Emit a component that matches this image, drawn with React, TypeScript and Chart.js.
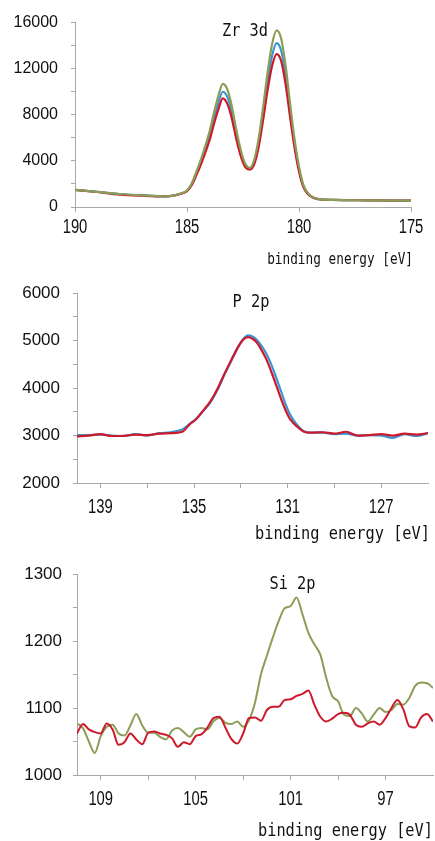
import React, { useEffect, useRef } from 'react';
import { Chart, registerables } from 'chart.js';

Chart.register(...registerables);

const GREEN = '#8c9d57';
const BLUE = '#3b95d3';
const RED = '#cc1a2c';
const AXIS = '#a8a8a8';
const TEXT = '#111111';

// ---------- Zr 3d ----------
const zrEnergy = [190, 189, 188, 187, 186, 185.6, 185.2, 185, 184.8, 184.6, 184.4, 184.2, 184, 183.8, 183.6, 183.4, 183.2, 183, 182.8, 182.6, 182.4, 182.2, 182, 181.8, 181.6, 181.4, 181.2, 181, 180.8, 180.6, 180.4, 180.2, 180, 179.8, 179.6, 179.4, 179.2, 179, 178.5, 178, 177, 176, 175];
const zrGreen = [1490, 1310, 1130, 1010, 930, 990, 1230, 1430, 2000, 2950, 4000, 5200, 6500, 8150, 9650, 10680, 10200, 8750, 6700, 4950, 3750, 3400, 4100, 5950, 8700, 11700, 14150, 15320, 14650, 12300, 9000, 5900, 3500, 1900, 1200, 880, 720, 660, 620, 600, 580, 560, 545];
const zrBlue = [1490, 1310, 1130, 1010, 930, 985, 1210, 1400, 1930, 2810, 3790, 4900, 6110, 7650, 9040, 10000, 9550, 8200, 6290, 4660, 3620, 3320, 3900, 5560, 8100, 10875, 13140, 14220, 13600, 11425, 8370, 5500, 3280, 1800, 1155, 860, 710, 655, 620, 600, 580, 560, 545];
const zrRed = [1490, 1300, 1080, 980, 925, 985, 1190, 1365, 1860, 2680, 3590, 4630, 5750, 7180, 8480, 9420, 8950, 7690, 5910, 4400, 3450, 3250, 3700, 5220, 7580, 10160, 12260, 13270, 12690, 10670, 7830, 5160, 3090, 1720, 1116, 840, 700, 650, 620, 600, 580, 560, 545];
const zrXTicks = [190, 185, 180, 175];
const zrXLabels = [190, 185, 180, 175];

// ---------- P 2p ----------
const pEnergy = [140, 139.5, 139, 138.5, 138, 137.5, 137, 136.5, 136, 135.5, 135.2, 134.9, 134.6, 134.3, 134.0, 133.7, 133.4, 133.1, 132.9, 132.7, 132.5, 132.3, 132.1, 131.9, 131.7, 131.5, 131.3, 131.1, 130.9, 130.6, 130.3, 130, 129.5, 129, 128.5, 128, 127.5, 127, 126.5, 126, 125.5, 125];
const pRed = [2980, 3000, 3030, 2990, 2995, 3020, 3010, 3040, 3050, 3080, 3230, 3350, 3530, 3720, 3980, 4300, 4600, 4880, 5020, 5075, 5040, 4950, 4790, 4600, 4350, 4080, 3800, 3550, 3350, 3190, 3080, 3060, 3070, 3040, 3080, 3000, 3010, 3030, 3000, 3040, 3020, 3050];
const pBlue = [3010, 3010, 3020, 3000, 2990, 3030, 3000, 3050, 3070, 3130, 3240, 3360, 3520, 3700, 3960, 4280, 4580, 4880, 5030, 5110, 5090, 5010, 4880, 4720, 4500, 4240, 3960, 3680, 3450, 3230, 3090, 3060, 3060, 3030, 3040, 3000, 3010, 3000, 2950, 3030, 2990, 3050];
const pXTicks = [139, 137, 135, 133, 131, 129, 127];
const pXLabels = [139, 135, 131, 127];

// ---------- Si 2p ----------
const siEnergy = [110, 109.75, 109.5, 109.25, 109, 108.75, 108.5, 108.25, 108, 107.75, 107.5, 107.25, 107, 106.75, 106.5, 106.25, 106, 105.75, 105.5, 105.25, 105, 104.75, 104.5, 104.25, 104, 103.75, 103.5, 103.25, 103, 102.75, 102.5, 102.25, 102, 101.75, 101.5, 101.25, 101, 100.75, 100.5, 100.25, 100, 99.75, 99.5, 99.25, 99, 98.75, 98.5, 98.25, 98, 97.75, 97.5, 97.25, 97, 96.75, 96.5, 96.25, 96, 95.75, 95.5, 95.25, 95];
const siGreen = [1077, 1070, 1050, 1033, 1058, 1072, 1075, 1062, 1059, 1074, 1091, 1074, 1063, 1063, 1057, 1053, 1066, 1070, 1064, 1057, 1068, 1070, 1068, 1080, 1085, 1078, 1076, 1080, 1072, 1082, 1108, 1150, 1178, 1205, 1230, 1249, 1252, 1265, 1240, 1212, 1195, 1180, 1145, 1118, 1110, 1090, 1088, 1100, 1092, 1080, 1090, 1100, 1094, 1097, 1106, 1105, 1115, 1133, 1138, 1137, 1130];
const siRed = [1062, 1076, 1068, 1064, 1062, 1077, 1068, 1045, 1049, 1062, 1053, 1046, 1063, 1065, 1062, 1060, 1055, 1042, 1049, 1046, 1058, 1061, 1071, 1085, 1087, 1071, 1054, 1047, 1062, 1085, 1086, 1081, 1097, 1102, 1102, 1112, 1113, 1118, 1121, 1126, 1105, 1087, 1080, 1084, 1091, 1093, 1090, 1075, 1072, 1077, 1080, 1075, 1085, 1100, 1112, 1098, 1073, 1071, 1086, 1091, 1080];
const siXTicks = [109, 107, 105, 103, 101, 99, 97];
const siXLabels = [109, 105, 101, 97];

function drawScaled(ctx: CanvasRenderingContext2D, text: string, x: number, y: number, font: string, sx: number, align: CanvasTextAlign) {
  ctx.save();
  ctx.translate(x, y);
  ctx.scale(sx, 1);
  ctx.font = font;
  ctx.fillStyle = TEXT;
  ctx.textAlign = align;
  ctx.textBaseline = 'alphabetic';
  ctx.fillText(text, 0, 0);
  ctx.restore();
}

const textPlugin = {
  id: 'xpsText',
  afterDraw(chart: any, _args: any, opts: any) {
    const { ctx, chartArea, scales } = chart;
    const xs = scales.x;
    const labels: number[] = opts.xLabels || [];
    for (let i = 0; i < labels.length; i++) {
      const v = labels[i];
      drawScaled(ctx, String(v), xs.getPixelForValue(v), chartArea.bottom + opts.xLabelDy, opts.xLabelFont, opts.xLabelScale, 'center');
    }
    drawScaled(ctx, opts.axisTitle, chartArea.right + opts.axisTitleDx, chartArea.bottom + opts.axisTitleDy, opts.axisTitleFont, opts.axisTitleScale, 'right');
    drawScaled(ctx, opts.title, opts.titleX, chartArea.top + opts.titleDy, opts.titleFont, 0.9, 'center');
  },
};

type Series = { data: number[]; color: string };
type Cfg = {
  width: number; height: number;
  energy: number[]; series: Series[]; lineWidth: number;
  xMin: number; xMax: number; xTicks: number[]; xLabels: number[];
  yMin: number; yMax: number; yStep: number; yLabelStep: number;
  yFont: number; yPad: number;
  left: number; right: number; top: number; bottom: number;
  title: string; titleX: number; titleDy: number;
  xLabelDy: number; axisTitleDx: number; axisTitleDy: number;
  axisTitleFont: string; axisTitleScale: number;
};

function buildConfig(c: Cfg): any {
  return {
    type: 'line',
    data: {
      datasets: c.series.map((s) => ({
        data: c.energy.map((e, i) => ({ x: e, y: s.data[i] })),
        borderColor: s.color,
        backgroundColor: s.color,
        borderWidth: c.lineWidth,
        pointRadius: 0,
        fill: false,
        cubicInterpolationMode: 'monotone',
      })),
    },
    options: {
      animation: false,
      responsive: false,
      maintainAspectRatio: false,
      events: [],
      layout: { padding: { left: 0, right: c.width - c.right, top: c.top, bottom: 0 } },
      plugins: {
        legend: { display: false },
        tooltip: { enabled: false },
        title: { display: false },
        xpsText: {
          xLabels: c.xLabels,
          xLabelDy: c.xLabelDy,
          xLabelFont: '20px "Liberation Sans", Arial, sans-serif',
          xLabelScale: 0.74,
          axisTitle: 'binding energy [eV]',
          axisTitleDx: c.axisTitleDx,
          axisTitleDy: c.axisTitleDy,
          axisTitleFont: c.axisTitleFont,
          axisTitleScale: c.axisTitleScale,
          title: c.title,
          titleX: c.titleX,
          titleDy: c.titleDy,
          titleFont: '17px "DejaVu Sans Mono", monospace',
        },
      },
      scales: {
        x: {
          type: 'linear',
          reverse: true,
          min: c.xMin,
          max: c.xMax,
          afterBuildTicks: (scale: any) => {
            scale.ticks = c.xTicks.map((v) => ({ value: v }));
          },
          afterFit: (scale: any) => {
            scale.height = c.height - c.bottom;
          },
          ticks: { display: false, autoSkip: false },
          grid: { drawOnChartArea: false, drawTicks: true, tickLength: 5, color: AXIS, lineWidth: 1 },
          border: { display: true, color: AXIS, width: 1 },
        },
        y: {
          type: 'linear',
          min: c.yMin,
          max: c.yMax,
          afterFit: (scale: any) => {
            scale.width = c.left;
          },
          ticks: {
            stepSize: c.yStep,
            autoSkip: false,
            padding: c.yPad,
            color: TEXT,
            font: { family: '"Liberation Sans", Arial, sans-serif', size: c.yFont },
            callback: (v: any) => {
              const n = Number(v);
              return Math.abs(n / c.yLabelStep - Math.round(n / c.yLabelStep)) < 1e-6 ? String(n) : '';
            },
          },
          grid: { drawOnChartArea: false, drawTicks: true, tickLength: 4, color: AXIS, lineWidth: 1 },
          border: { display: true, color: AXIS, width: 1 },
        },
      },
    },
    plugins: [textPlugin],
  };
}

function XpsChart({ cfg }: { cfg: Cfg }) {
  const ref = useRef<HTMLCanvasElement | null>(null);
  useEffect(() => {
    if (!ref.current) return;
    const chart = new Chart(ref.current, buildConfig(cfg));
    return () => chart.destroy();
  }, []);
  return (
    <canvas
      ref={ref}
      width={cfg.width}
      height={cfg.height}
      style={{ display: 'block', width: cfg.width, height: cfg.height }}
    />
  );
}

const zrCfg: Cfg = {
  width: 435, height: 270,
  energy: zrEnergy,
  series: [
    { data: zrGreen, color: GREEN },
    { data: zrRed, color: RED },
    { data: zrBlue, color: BLUE },
  ],
  lineWidth: 2.2,
  xMin: 175, xMax: 190, xTicks: zrXTicks, xLabels: zrXLabels,
  yMin: 0, yMax: 16000, yStep: 2000, yLabelStep: 4000, yFont: 16, yPad: 13,
  left: 75, right: 411, top: 17, bottom: 207,
  title: 'Zr 3d', titleX: 245, titleDy: 13,
  xLabelDy: 26, axisTitleDx: 2, axisTitleDy: 57,
  axisTitleFont: '15px "DejaVu Sans Mono", monospace', axisTitleScale: 0.85,
};

const pCfg: Cfg = {
  width: 435, height: 280,
  energy: pEnergy,
  series: [
    { data: pRed, color: RED },
    { data: pBlue, color: BLUE },
  ],
  lineWidth: 2.2,
  xMin: 125, xMax: 140, xTicks: pXTicks, xLabels: pXLabels,
  yMin: 2000, yMax: 6000, yStep: 500, yLabelStep: 1000, yFont: 17, yPad: 13,
  left: 77, right: 428, top: 15, bottom: 213,
  title: 'P 2p', titleX: 251, titleDy: 14,
  xLabelDy: 30, axisTitleDx: 2, axisTitleDy: 56,
  axisTitleFont: '17px "DejaVu Sans Mono", monospace', axisTitleScale: 0.9,
};

const siCfg: Cfg = {
  width: 435, height: 291,
  energy: siEnergy,
  series: [
    { data: siRed, color: RED },
    { data: siGreen, color: GREEN },
  ],
  lineWidth: 2,
  xMin: 95, xMax: 110, xTicks: siXTicks, xLabels: siXLabels,
  yMin: 1000, yMax: 1300, yStep: 50, yLabelStep: 100, yFont: 17, yPad: 11,
  left: 77, right: 433, top: 24, bottom: 225,
  title: 'Si 2p', titleX: 292.5, titleDy: 15,
  xLabelDy: 30, axisTitleDx: 0, axisTitleDy: 61,
  axisTitleFont: '17px "DejaVu Sans Mono", monospace', axisTitleScale: 0.9,
};

export default function App() {
  return (
    <div style={{ position: 'absolute', left: 0, top: 0, width: 435, height: 841, background: '#ffffff' }}>
      <XpsChart cfg={zrCfg} />
      <XpsChart cfg={pCfg} />
      <XpsChart cfg={siCfg} />
    </div>
  );
}
